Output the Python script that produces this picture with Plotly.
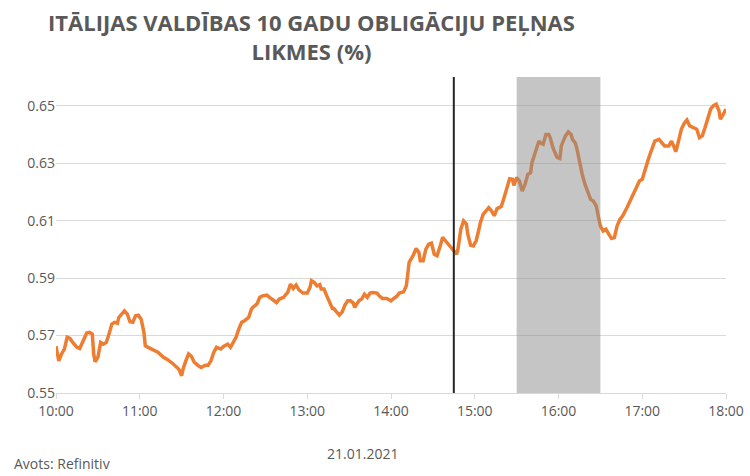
import plotly.graph_objects as go

DATE = "2021-01-21"

times = [
    "10:00","10:02","10:04","10:06","10:08","10:10","10:12","10:15","10:17","10:20",
    "10:22","10:24","10:26","10:27","10:28","10:30","10:32","10:34","10:36","10:38",
    "10:40","10:42","10:44","10:45","10:47","10:49","10:51","10:53","10:55","10:57",
    "10:59","11:01","11:03","11:04","11:06","11:10","11:13","11:17","11:20","11:24",
    "11:26","11:28","11:30","11:31","11:33","11:35","11:37","11:39","11:42","11:44",
    "11:47","11:49","11:51","11:53","11:55","11:58","12:00","12:03","12:05","12:07",
    "12:09","12:11","12:13","12:15","12:18","12:20","12:21","12:24","12:26","12:28",
    "12:31","12:33","12:36","12:38","12:40","12:43","12:46","12:48","12:50","12:52",
    "12:54","12:57","13:00","13:02","13:03","13:05","13:07","13:09","13:10","13:12",
    "13:14","13:16","13:18","13:19","13:22","13:23","13:25","13:27","13:29","13:31",
    "13:33","13:34","13:35","13:37","13:39","13:41","13:43","13:45","13:47","13:50",
    "13:52","13:54","13:57","14:00","14:02","14:04","14:06","14:09","14:11","14:12",
    "14:13","14:16","14:18","14:20","14:21","14:23","14:25","14:27","14:29","14:31",
    "14:33","14:35","14:37","14:39","14:41","14:43","14:45","14:47","14:48","14:50",
    "14:52","14:54","14:55","14:57","14:59","15:01","15:03","15:04","15:06","15:09",
    "15:10","15:12","15:14","15:16","15:18","15:19","15:21","15:23","15:25","15:27",
    "15:28","15:30","15:32","15:34","15:36","15:38","15:40","15:41","15:43","15:46",
    "15:47","15:49","15:51","15:53","15:54","15:56","15:59","16:01","16:02","16:05",
    "16:07","16:09","16:10","16:12","16:13","16:15","16:17","16:19","16:21","16:23",
    "16:25","16:27","16:29","16:30","16:32","16:34","16:36","16:38","16:40","16:42",
    "16:44","16:46","16:49","16:51","16:54","16:56","16:58","17:00","17:02","17:04",
    "17:06","17:08","17:09","17:12","17:14","17:16","17:19","17:21","17:23","17:24",
    "17:26","17:28","17:30","17:32","17:34","17:37","17:39","17:41","17:43","17:45",
    "17:47","17:49","17:51","17:53","17:55","17:56","17:58","18:00",
]

yields = [
    0.5663,0.5612,0.5636,0.5653,0.5694,0.5690,0.5676,0.5659,0.5655,0.5688,
    0.5709,0.5711,0.5705,0.5636,0.5609,0.5624,0.5676,0.5670,0.5676,0.5705,
    0.5740,0.5746,0.5743,0.5763,0.5775,0.5786,0.5775,0.5748,0.5746,0.5769,
    0.5771,0.5757,0.5711,0.5664,0.5659,0.5650,0.5642,0.5624,0.5616,0.5601,
    0.5590,0.5583,0.5560,0.5583,0.5612,0.5636,0.5628,0.5607,0.5595,0.5589,
    0.5597,0.5597,0.5612,0.5641,0.5659,0.5653,0.5662,0.5670,0.5659,0.5676,
    0.5694,0.5723,0.5746,0.5751,0.5763,0.5792,0.5798,0.5810,0.5833,0.5838,
    0.5841,0.5833,0.5821,0.5815,0.5827,0.5833,0.5850,0.5879,0.5864,0.5876,
    0.5859,0.5848,0.5848,0.5868,0.5891,0.5885,0.5873,0.5877,0.5862,0.5862,
    0.5838,0.5815,0.5794,0.5794,0.5778,0.5771,0.5782,0.5806,0.5821,0.5821,
    0.5813,0.5798,0.5806,0.5821,0.5827,0.5844,0.5833,0.5848,0.5850,0.5848,
    0.5836,0.5829,0.5829,0.5821,0.5829,0.5836,0.5848,0.5852,0.5873,0.5931,
    0.5955,0.5980,0.6003,0.5989,0.5960,0.5960,0.6001,0.6018,0.6022,0.5983,
    0.5978,0.6007,0.6042,0.6030,0.6018,0.6007,0.5995,0.5983,0.6001,0.6070,
    0.6099,0.6088,0.6053,0.6015,0.6012,0.6030,0.6070,0.6093,0.6122,0.6140,
    0.6145,0.6134,0.6117,0.6142,0.6149,0.6149,0.6180,0.6215,0.6246,0.6244,
    0.6223,0.6250,0.6238,0.6203,0.6226,0.6261,0.6267,0.6302,0.6336,0.6377,
    0.6371,0.6366,0.6400,0.6400,0.6389,0.6354,0.6320,0.6316,0.6360,0.6395,
    0.6409,0.6400,0.6383,0.6371,0.6354,0.6302,0.6261,0.6226,0.6197,0.6174,
    0.6168,0.6151,0.6104,0.6082,0.6064,0.6070,0.6053,0.6038,0.6041,0.6082,
    0.6104,0.6117,0.6145,0.6165,0.6191,0.6215,0.6238,0.6244,0.6279,0.6308,
    0.6337,0.6360,0.6377,0.6383,0.6372,0.6360,0.6360,0.6377,0.6354,0.6340,
    0.6377,0.6418,0.6438,0.6450,0.6430,0.6424,0.6418,0.6389,0.6395,0.6424,
    0.6459,0.6488,0.6500,0.6505,0.6482,0.6453,0.6470,0.6488,
]

y_ticks = [0.55, 0.57, 0.59, 0.61, 0.63, 0.65]
y_tick_labels = ["0.55", "0.57", "0.59", "0.61", "0.63", "0.65"]
event_time = "14:45"
shade_start, shade_end = "15:30", "16:30"
title_text = "ITĀLIJAS VALDĪBAS 10 GADU OBLIGĀCIJU PEĻŅAS<br>LIKMES (%)"
date_label = "21.01.2021"
source_label = "Avots: Refinitiv"

x = [f"{DATE} {t}" for t in times]

fig = go.Figure()
fig.add_trace(go.Scatter(
    x=x, y=yields, mode="lines",
    line=dict(color="#ED7D31", width=3.5),
    hoverinfo="x+y", showlegend=False,
))

fig.add_shape(type="rect", xref="x", yref="paper",
              x0=f"{DATE} {shade_start}", x1=f"{DATE} {shade_end}", y0=0, y1=1,
              fillcolor="rgba(140,140,140,0.5)", line_width=0, layer="above")
fig.add_shape(type="line", xref="x", yref="paper",
              x0=f"{DATE} {event_time}", x1=f"{DATE} {event_time}", y0=0, y1=1,
              line=dict(color="#262626", width=2), layer="above")

font = "Open Sans, sans-serif"
title_font = dict(family=font, size=22, color="#595959")

fig.update_layout(
    width=750, height=476,
    margin=dict(l=56, r=24, t=77, b=83),
    paper_bgcolor="white", plot_bgcolor="white",
    font=dict(family=font, color="#595959", size=14),
    xaxis=dict(
        type="date",
        range=[f"{DATE} 10:00", f"{DATE} 18:00"],
        dtick=3600000, tickformat="%H:%M",
        showgrid=False, showline=True, linecolor="#d9d9d9", linewidth=1,
        ticks="outside", ticklen=5, tickcolor="#d9d9d9",
        tickfont=dict(size=14, color="#595959"),
        zeroline=False, automargin=False,
    ),
    yaxis=dict(
        range=[0.55, 0.66],
        tickvals=y_ticks, ticktext=y_tick_labels,
        showgrid=True, gridcolor="#d9d9d9", gridwidth=1,
        showline=False, zeroline=False, ticks="",
        tickfont=dict(size=14, color="#595959"), automargin=False,
    ),
    annotations=[
        dict(text=f"<b>{title_text}</b>", xref="paper", yref="paper", x=0.381, y=1.127,
             xanchor="center", yanchor="middle", align="center", showarrow=False,
             font=title_font),
        dict(text=date_label, xref="paper", yref="paper", x=0.457, y=-0.19,
             xanchor="center", yanchor="middle", showarrow=False,
             font=dict(size=14, color="#595959")),
        dict(text=source_label, xref="paper", yref="paper", x=-0.0657, y=-0.222,
             xanchor="left", yanchor="middle", showarrow=False,
             font=dict(size=14, color="#595959")),
    ],
)

fig.write_html("out.html", config={"displayModeBar": False},
               post_script="document.body.style.margin='0';")
